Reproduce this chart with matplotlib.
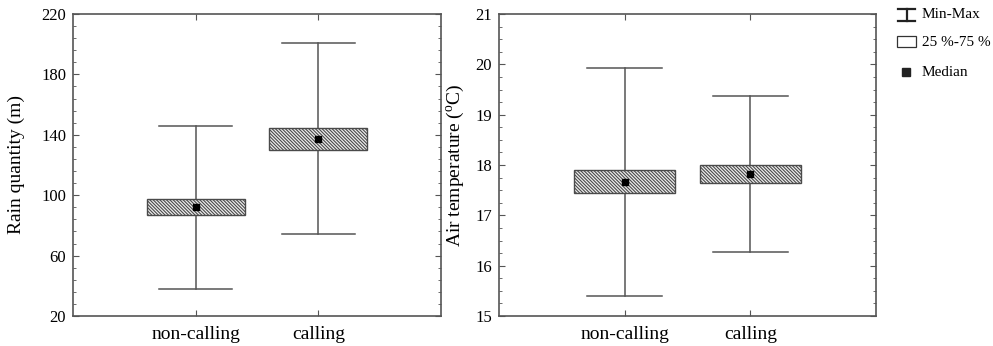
import matplotlib
matplotlib.use("Agg")
import matplotlib.pyplot as plt
from matplotlib.ticker import AutoMinorLocator
from matplotlib.patches import Rectangle

plt.rcParams['font.family'] = ['Liberation Serif', 'DejaVu Serif']
plt.rcParams['mathtext.fontset'] = 'custom'
plt.rcParams['mathtext.rm'] = 'Liberation Serif'
plt.rcParams['hatch.linewidth'] = 0.8

groups = ['non-calling', 'calling']

# rain quantity (m)
rain_min = [38, 74]
rain_q1 = [86.7, 129.7]
rain_med = [92.4, 137.2]
rain_q3 = [97.2, 144.7]
rain_max = [146, 201]

# air temperature (C)
temp_min = [15.4, 16.27]
temp_q1 = [17.44, 17.64]
temp_med = [17.67, 17.82]
temp_q3 = [17.91, 18.0]
temp_max = [19.92, 19.37]

line_col = '#555555'
box_w = 0.8
cap_w = 0.6


def draw_panel(ax, mins, q1, med, q3, maxs, ylim, yticks, nminor, ylabel):
    for i in range(len(groups)):
        ax.plot([i, i], [mins[i], maxs[i]], color=line_col, lw=1.1, zorder=1)
        for v in (mins[i], maxs[i]):
            ax.plot([i - cap_w / 2, i + cap_w / 2], [v, v], color=line_col, lw=1.1, zorder=1)
        ax.add_patch(Rectangle((i - box_w / 2, q1[i]), box_w, q3[i] - q1[i],
                               facecolor='#eeeeee', edgecolor='#4a4a4a',
                               hatch='\\' * 10, lw=1.0, zorder=2))
        ax.plot(i, med[i], marker='s', ms=5, color='black', zorder=3)
    ax.set_xlim(-1, 2)
    ax.set_ylim(*ylim)
    ax.set_xticks(range(len(groups)))
    ax.set_xticklabels(groups, fontsize=14)
    ax.set_yticks(yticks)
    ax.yaxis.set_minor_locator(AutoMinorLocator(nminor))
    ax.tick_params(axis='both', which='both', direction='in', color=line_col,
                   top=True, right=True)
    ax.tick_params(axis='y', which='major', length=4, labelsize=12, pad=5)
    ax.tick_params(axis='y', which='minor', length=2)
    ax.tick_params(axis='x', which='major', length=4, pad=7)
    ax.set_ylabel(ylabel, fontsize=14)
    for s in ax.spines.values():
        s.set_color(line_col)
        s.set_linewidth(1.2)


fig = plt.figure(figsize=(9.93, 3.46), dpi=100)
ax1 = fig.add_axes([73 / 993, 30 / 346, 368 / 993, 302 / 346])
ax2 = fig.add_axes([499 / 993, 30 / 346, 377 / 993, 302 / 346])

draw_panel(ax1, rain_min, rain_q1, rain_med, rain_q3, rain_max,
           (20, 220), [20, 60, 100, 140, 180, 220], 5, 'Rain quantity (m)')
ax1.yaxis.set_label_coords(-0.13, 0.5)

draw_panel(ax2, temp_min, temp_q1, temp_med, temp_q3, temp_max,
           (15, 21), [15, 16, 17, 18, 19, 20, 21], 4,
           'Air temperature ($^{\\mathrm{o}}$C)')
ax2.yaxis.set_label_coords(-0.085, 0.5)

# legend drawn by hand
leg = fig.add_axes([0, 0, 1, 1])
leg.set_xlim(0, 993)
leg.set_ylim(346, 0)
leg.axis('off')
leg.plot([898, 915], [9, 9], color='#222222', lw=1.6)
leg.plot([898, 915], [21, 21], color='#222222', lw=1.6)
leg.plot([906.5, 906.5], [9, 21], color='#222222', lw=1.6)
leg.add_patch(Rectangle((897, 36), 19, 11, facecolor='white', edgecolor='#333333', lw=0.9))
leg.plot(906, 72, marker='s', ms=6, color='#222222')
leg.text(922, 15, 'Min-Max', fontsize=11, va='center', ha='left')
leg.text(922, 42, '25 %-75 %', fontsize=11, va='center', ha='left')
leg.text(922, 73, 'Median', fontsize=11, va='center', ha='left')

fig.savefig('out.png', dpi=100)
